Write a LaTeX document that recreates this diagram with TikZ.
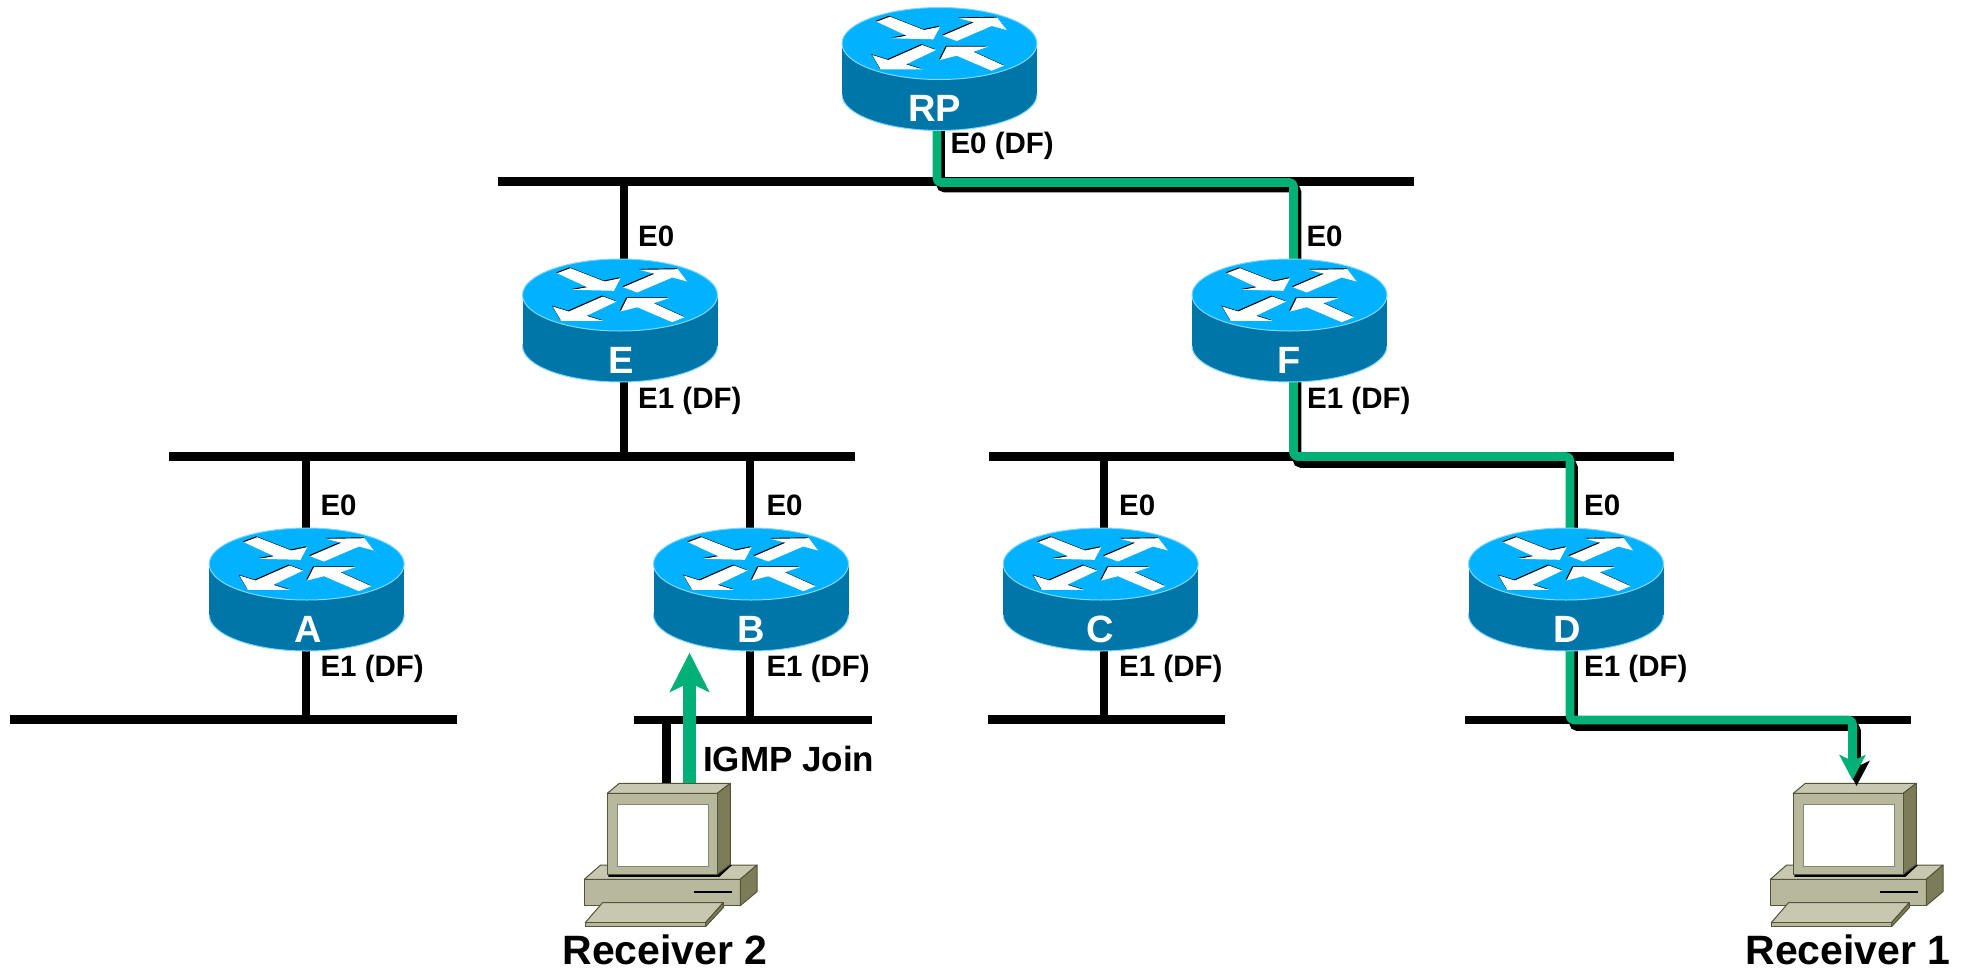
\documentclass[tikz,border=0pt]{standalone}
\usepackage{fontspec}
\setmainfont{Liberation Sans}
\usetikzlibrary{arrows.meta,calc}
\definecolor{rtop}{RGB}{0,178,255}
\definecolor{rside}{RGB}{0,118,168}
\definecolor{redge}{RGB}{130,215,250}
\definecolor{flow}{RGB}{0,176,118}
\definecolor{pcfront}{RGB}{184,184,156}
\definecolor{pctop}{RGB}{200,200,176}
\definecolor{pcside}{RGB}{124,124,88}
\definecolor{pcline}{RGB}{84,84,60}
\newcommand\lblfont{\fontsize{29.5}{31}\selectfont\bfseries}
\newcommand\rtrfont{\fontsize{38}{40}\selectfont\bfseries}
\newcommand\rcvfont{\fontsize{41}{43}\selectfont\bfseries}
\newcommand\joinfont{\fontsize{35}{37}\selectfont\bfseries}
\tikzset{
  wire/.style={draw=black,line width=8.5pt},
  shadowline/.style={draw=black,line width=8.5pt,rounded corners=4pt},
  flowline/.style={draw=flow,line width=8.6pt,rounded corners=4pt,line join=round},
  portlbl/.style={anchor=base west,inner sep=0pt,font=\lblfont,text=black},
  rtrlbl/.style={anchor=base,inner sep=0pt,font=\rtrfont,text=white},
  rcvlbl/.style={anchor=base,inner sep=0pt,font=\rcvfont,text=black},
  joinlbl/.style={anchor=base west,inner sep=0pt,font=\joinfont,text=black},
  rtrbox/.style={draw=none,inner sep=0pt,minimum width=195pt,minimum height=123pt},
  pcbox/.style={draw=none,inner sep=0pt,minimum width=173pt,minimum height=143pt},
  pcf/.style={fill=pcfront,draw=pcline,line width=1pt,line join=round},
  pct/.style={fill=pctop,draw=pcline,line width=1pt,line join=round},
  pcs/.style={fill=pcside,draw=pcline,line width=1pt,line join=round},
}
\def\arA{(-62.8,-21.8) -- (-49.5,-26.8) -- (-15.5,-13.5) -- (0.5,-16.8) -- (-6.2,-4.2) -- (-47.2,-5.2) -- (-32.8,-7.8) -- cycle}
\def\arB{(3.2,-7.8) -- (17.2,-2.5) -- (52.2,-17.5) -- (67.2,-13.5) -- (57.8,-25.8) -- (19.5,-25.2) -- (34.5,-21.2) -- cycle}
\def\arC{(-3.5,6.5) -- (-17.2,1.5) -- (-51.2,16.5) -- (-67.2,11.5) -- (-58.8,25.8) -- (-17.2,25.8) -- (-33.5,20.8) -- cycle}
\def\arD{(64.5,22.2) -- (52.2,27.2) -- (17.2,12.2) -- (0.5,16.5) -- (7.2,3.2) -- (48.8,3.2) -- (33.8,8.2) -- cycle}
% name, centre x, top-face centre y, label, label x
\newcommand\routerat[5]{%
  \begin{scope}[shift={(#2,#3)}]
    \fill[rside] (-97.5,0) rectangle (97.5,51);
    \fill[rside] (0,51) ellipse [x radius=97.5,y radius=36];
    \draw[redge,line width=1pt] (-97.5,51) arc [start angle=180,end angle=360,x radius=97.5,y radius=-36];
    \fill[rtop] (0,0) ellipse [x radius=97.5,y radius=36];
    \draw[redge,line width=1pt] (0,0) ellipse [x radius=97.5,y radius=36];
    \begin{scope}[shift={(-0.9,-0.9)}]
      \fill[black] \arA \arB \arC \arD;
    \end{scope}
    \fill[white] \arA \arB \arC \arD;
  \end{scope}
  \node[rtrlbl] (#1-l) at (#5,#3+78) {#4};
}
% name, reference x (monitor front top-left)
\newcommand\pcat[2]{%
  \node[pcbox] (#1) at (#2+63,793.3+61.6) {};
  \begin{scope}[shift={(#2,793.3)}]
    \path[pct] (-23,86) -- (-6.7,71.7) -- (149.7,71.7) -- (133,86) -- cycle;
    \path[pcf] (-23,86) rectangle (133,112.3);
    \path[pcs] (133,86) -- (149.7,71.7) -- (149.7,98.3) -- (133,112.3) -- cycle;
    \fill[black] (87,97.5) rectangle (124.3,99.5);
    \fill[black] (1,81) -- (110,81) -- (123,71) -- (124.5,72) -- (112,83.6) -- (1,83.6) -- cycle;
    \path[pct] (-22,129.3) -- (-4.7,109.3) -- (116,109.3) -- (98.3,129.3) -- cycle;
    \path[pcf] (-22,129.3) rectangle (98.3,133.3);
    \path[pcs] (98.3,129.3) -- (116,109.3) -- (116,114.3) -- (98.3,133.3) -- cycle;
    \path[pct] (0,0) -- (12,-10) -- (123,-10) -- (110,0) -- cycle;
    \path[pcs] (110,0) -- (123,-10) -- (123,71) -- (110,81) -- cycle;
    \path[pcf] (0,0) rectangle (110,81);
    \path[fill=white,draw=pcline!70,line width=1pt] (10,10.7) rectangle (101,72.7);
  \end{scope}
}
\begin{document}
\begin{tikzpicture}[x=1pt,y=-1pt]
\useasboundingbox (0,0) rectangle (1968,969);
\fill[white] (0,0) rectangle (1968,969);
% receivers
\pcat{pc2}{607.3}
\pcat{pc1}{1793.3}
\node[rcvlbl] (r2) at (665,964) {Receiver 2};
\node[rcvlbl] (r1) at (1848,964) {Receiver 1};
% bus ends
\coordinate (b1l) at (498,181.5);  \coordinate (b1r) at (1414,181.5);
\coordinate (b2l) at (169,456.5);  \coordinate (b2r) at (855,456.5);
\coordinate (b3l) at (989,456.5);  \coordinate (b3r) at (1674,456.5);
\coordinate (bal) at (10,719.5);   \coordinate (bar) at (457,719.5);
\coordinate (bbl) at (634,720);    \coordinate (bbr) at (872,720);
\coordinate (bcl) at (988,719.5);  \coordinate (bcr) at (1225,719.5);
\coordinate (bdl) at (1465,720);   \coordinate (bdr) at (1911,720);
% router boxes
\node[rtrbox] (RP) at (939.5,69) {};
\node[rtrbox] (E) at (620,320.5) {};
\node[rtrbox] (F) at (1289.5,320.5) {};
\node[rtrbox] (A) at (306.7,589.5) {};
\node[rtrbox] (B) at (751,589.5) {};
\node[rtrbox] (C) at (1100.7,589.5) {};
\node[rtrbox] (D) at (1566,589.5) {};
% taps on the buses
\coordinate (tEu) at (624,181.5);  \coordinate (tEd) at (624,456.5);
\coordinate (tAu) at (306,456.5);  \coordinate (tAd) at (306,719.5);
\coordinate (tBu) at (750,456.5);  \coordinate (tBd) at (750,720);
\coordinate (tCu) at (1104,456.5); \coordinate (tCd) at (1104,719.5);
\coordinate (tPC) at (666.7,720);
% buses and stubs
\draw[wire] (b1l) -- (b1r);
\draw[wire] (b2l) -- (b2r);
\draw[wire] (b3l) -- (b3r);
\draw[wire] (bal) -- (bar);
\draw[wire] (bbl) -- (bbr);
\draw[wire] (bcl) -- (bcr);
\draw[wire] (bdl) -- (bdr);
\draw[wire] (tEu) -- (tEu |- E.center);
\draw[wire] (tEd) -- (tEd |- E.center);
\draw[wire] (tAu) -- (tAu |- A.center);
\draw[wire] (tAd) -- (tAd |- A.center);
\draw[wire] (tBu) -- (tBu |- B.center);
\draw[wire] (tBd) -- (tBd |- B.center);
\draw[wire] (tCu) -- (tCu |- C.center);
\draw[wire] (tCd) -- (tCd |- C.center);
\draw[wire] (tPC) -- (tPC |- pc2.north);
% black offset paths under the green flow
\coordinate (s1a) at (940.5,90);  \coordinate (s1b) at (940.5,188); \coordinate (s1c) at (1297,188);  \coordinate (s1d) at (1297,300);
\coordinate (s2a) at (1297,340);  \coordinate (s2b) at (1297,463.5); \coordinate (s2c) at (1573.5,463.5); \coordinate (s2d) at (1573.5,570);
\coordinate (s3a) at (1573.5,610); \coordinate (s3b) at (1573.5,726.7); \coordinate (s3c) at (1856.5,726.7); \coordinate (s3e) at (1856.5,786);
\draw[shadowline] (s1a) -- (s1b) -- (s1c) -- (s1d);
\draw[shadowline] (s2a) -- (s2b) -- (s2c) -- (s2d);
\draw[shadowline,-{Stealth[length=25pt,width=26pt,inset=6pt]}] (s3a) -- (s3b) -- (s3c) -- (s3e);
% green flow
\coordinate (g1a) at (937,90);  \coordinate (g1b) at (937,182.5); \coordinate (g1c) at (1293.5,182.5); \coordinate (g1d) at (1293.5,300);
\coordinate (g2a) at (1293.5,340); \coordinate (g2b) at (1293.5,456.5); \coordinate (g2c) at (1570,456.5); \coordinate (g2d) at (1570,570);
\coordinate (g3a) at (1570,610); \coordinate (g3b) at (1570,720); \coordinate (g3c) at (1852.5,720); \coordinate (g3e) at (1852.5,780);
\draw[flowline] (g1a) -- (g1b) -- (g1c) -- (g1d);
\draw[flowline] (g2a) -- (g2b) -- (g2c) -- (g2d);
\draw[flowline,-{Stealth[length=25pt,width=26pt,inset=6pt]}] (g3a) -- (g3b) -- (g3c) -- (g3e);
% routers
\routerat{RP}{939.5}{43.5}{RP}{934.5}
\routerat{E}{620}{295}{E}{621.5}
\routerat{F}{1289.5}{295}{F}{1289}
\routerat{A}{306.7}{564}{A}{308.3}
\routerat{B}{751}{564}{B}{751}
\routerat{C}{1100.7}{564}{C}{1100.7}
\routerat{D}{1566}{564}{D}{1567}
% port labels
\node[portlbl] (lRP) at (950.3,153.3) {E0 (DF)};
\node[portlbl] (lE0) at (638,246.7) {E0};
\node[portlbl] (lE1) at (638,408.3) {E1 (DF)};
\node[portlbl] (lF0) at (1306.3,246.7) {E0};
\node[portlbl] (lF1) at (1307,408.3) {E1 (DF)};
\node[portlbl] (lA0) at (320.3,515.7) {E0};
\node[portlbl] (lA1) at (320.3,676.7) {E1 (DF)};
\node[portlbl] (lB0) at (766.3,515.7) {E0};
\node[portlbl] (lB1) at (766.3,676.7) {E1 (DF)};
\node[portlbl] (lC0) at (1119,515.7) {E0};
\node[portlbl] (lC1) at (1119,676.7) {E1 (DF)};
\node[portlbl] (lD0) at (1584,515.7) {E0};
\node[portlbl] (lD1) at (1584,676.7) {E1 (DF)};
\node[joinlbl] (ij) at (703,771.7) {IGMP Join};
% IGMP arrow
\coordinate (igmptip) at (689.5,652.7);
\draw[draw=flow,fill=flow,line width=12.7pt,-{Stealth[length=39pt,width=39pt,inset=9pt]}] (igmptip |- pc2.north) -- (igmptip);
\end{tikzpicture}
\end{document}
